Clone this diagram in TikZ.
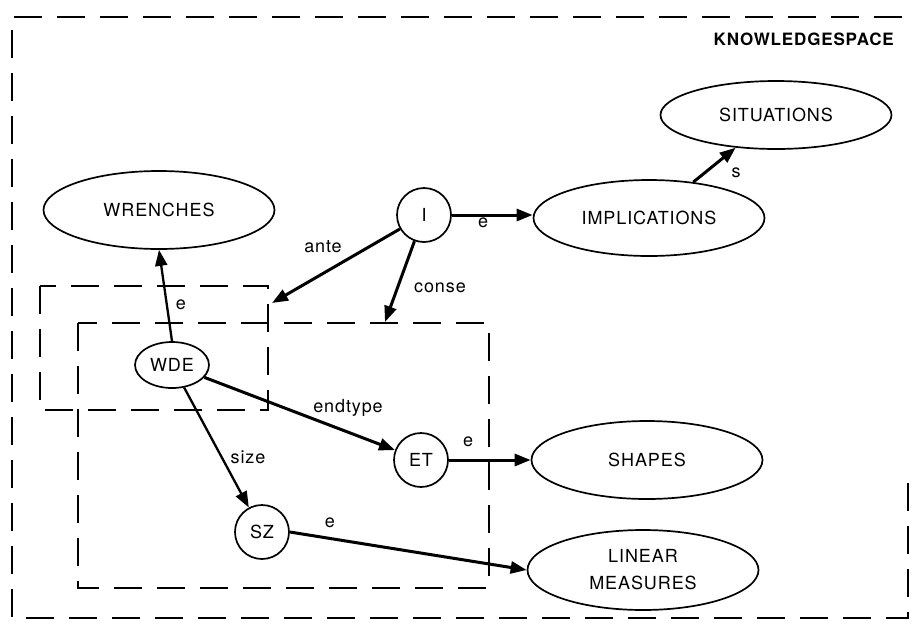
\documentclass[tikz,border=0pt]{standalone}
\usepackage{fontspec}
\setmainfont{TeX Gyre Heros}
\newfontfamily\lblfont[LetterSpace=5]{TeX Gyre Heros}
\usetikzlibrary{arrows.meta,shapes.geometric}
\begin{document}
\begin{tikzpicture}[x=1pt,y=-1pt,
  ell/.style={draw, line width=1.7pt, ellipse, minimum width=231pt, minimum height=78pt, inner sep=0pt, align=center, font=\lblfont\fontsize{18}{27}\selectfont},
  circ/.style={draw, line width=1.7pt, circle, minimum size=54pt, inner sep=0pt, font=\lblfont\fontsize{18}{20}\selectfont},
  arr/.style={-{Triangle[length=16pt,width=12pt]}, line width=3pt},
  thinarr/.style={-{Triangle[length=16pt,width=12pt]}, line width=2.3pt},
  lab/.style={inner sep=1pt, font=\lblfont\fontsize{18}{20}\selectfont},
  dbox/.style={dash pattern=on 28pt off 15pt, line width=2pt},
]
\useasboundingbox (0,0) rectangle (913,625);
% outer knowledge space frame
\draw[dbox] (908,483) -- (908,618) -- (12,618) -- (12,17) -- (908,17);
\node[font=\lblfont\bfseries\fontsize{17}{20}\selectfont, anchor=east, inner sep=0pt] (ks) at (894,39) {KNOWLEDGESPACE};
% inner dashed frames
\draw[dbox] (40,286) rectangle (268,410);
\draw[dbox] (78,323) rectangle (489,588);
\coordinate (c1) at (272,303);
\coordinate (c2) at (385,322);
% nodes
\node[ell, minimum height=68pt] (sit) at (776,115) {SITUATIONS};
\node[ell, minimum height=76pt] (impl) at (649,218) {IMPLICATIONS};
\node[ell] (wr) at (159,210) {WRENCHES};
\node[ell] (sh) at (647,460) {SHAPES};
\node[ell, minimum height=80pt] (lm) at (643,570) {LINEAR\\MEASURES};
\node[circ] (i) at (424,215) {I};
\node[circ, ellipse, minimum width=74pt, minimum height=46pt] (wde) at (172,365) {WDE};
\node[circ] (et) at (421,460) {ET};
\node[circ] (sz) at (262,532) {SZ};
% connectors
\draw[thinarr] (wde.north) -- (wr.south);
\draw[arr] (wde) -- (et);
\draw[thinarr] (wde) -- (sz);
\draw[arr] (i.east) -- (i.east -| impl.west);
\draw[arr] (impl) -- (sit);
\draw[arr] (i) -- (c1);
\draw[arr] (i) -- (c2);
\draw[arr] (et) -- (sh);
\draw[arr] (sz.east) -- (lm.west);
% labels
\node[lab] (le1) at (181,305) {e};
\node[lab] (lante) at (323,247) {ante};
\node[lab] (lconse) at (440,288) {conse};
\node[lab] (le2) at (483,223) {e};
\node[lab] (ls) at (736,173) {s};
\node[lab] (lend) at (348,408) {endtype};
\node[lab] (lsize) at (248,457) {size};
\node[lab] (le3) at (468,442) {e};
\node[lab] (le4) at (330,523) {e};
\end{tikzpicture}
\end{document}
